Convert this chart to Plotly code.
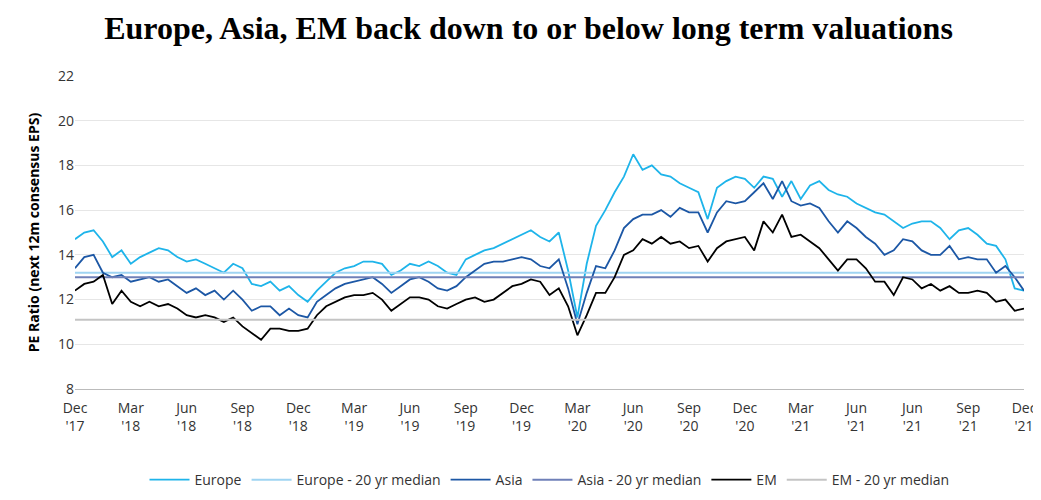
import plotly.graph_objects as go

tick_labels = ["Dec<br>'17", "Mar<br>'18", "Jun<br>'18", "Sep<br>'18", "Dec<br>'18", "Mar<br>'19",
               "Jun<br>'19", "Sep<br>'19", "Dec<br>'19", "Mar<br>'20", "Jun<br>'20", "Sep<br>'20",
               "Dec<br>'20", "Mar<br>'21", "Jun<br>'21", "Jun<br>'21", "Sep<br>'21", "Dec<br>'21"]

europe = [14.7, 15.0, 15.1, 14.6, 13.9, 14.2,
          13.6, 13.9, 14.1, 14.3, 14.2, 13.9,
          13.7, 13.8, 13.6, 13.4, 13.2, 13.6,
          13.4, 12.7, 12.6, 12.8, 12.4, 12.6,
          12.2, 11.9, 12.4, 12.8, 13.2, 13.4,
          13.5, 13.7, 13.7, 13.6, 13.1, 13.3,
          13.6, 13.5, 13.7, 13.5, 13.2, 13.1,
          13.8, 14.0, 14.2, 14.3, 14.5, 14.7,
          14.9, 15.1, 14.8, 14.6, 15.0, 13.3,
          11.2, 13.6, 15.3, 16.0, 16.8, 17.5,
          18.5, 17.8, 18.0, 17.6, 17.5, 17.2,
          17.0, 16.8, 15.6, 17.0, 17.3, 17.5,
          17.4, 17.0, 17.5, 17.4, 16.6, 17.3,
          16.5, 17.1, 17.3, 16.9, 16.7, 16.6,
          16.3, 16.1, 15.9, 15.8, 15.5, 15.2,
          15.4, 15.5, 15.5, 15.2, 14.7, 15.1,
          15.2, 14.9, 14.5, 14.4, 13.8, 12.5,
          12.4]

asia = [13.4, 13.9, 14.0, 13.2, 13.0, 13.1,
        12.8, 12.9, 13.0, 12.8, 12.9, 12.6,
        12.3, 12.5, 12.2, 12.4, 12.0, 12.4,
        12.0, 11.5, 11.7, 11.7, 11.3, 11.6,
        11.3, 11.2, 11.9, 12.2, 12.5, 12.7,
        12.8, 12.9, 13.0, 12.7, 12.3, 12.6,
        12.9, 13.0, 12.8, 12.5, 12.4, 12.6,
        13.0, 13.3, 13.6, 13.7, 13.7, 13.8,
        13.9, 13.8, 13.5, 13.4, 13.8, 12.5,
        10.9, 12.3, 13.5, 13.4, 14.2, 15.2,
        15.6, 15.8, 15.8, 16.0, 15.7, 16.1,
        15.9, 15.9, 15.0, 15.9, 16.4, 16.3,
        16.4, 16.8, 17.2, 16.5, 17.3, 16.4,
        16.2, 16.3, 16.1, 15.5, 15.0, 15.5,
        15.2, 14.8, 14.5, 14.0, 14.2, 14.7,
        14.6, 14.2, 14.0, 14.0, 14.4, 13.8,
        13.9, 13.8, 13.8, 13.2, 13.5, 13.0,
        12.4]

em = [12.4, 12.7, 12.8, 13.1, 11.8, 12.4,
      11.9, 11.7, 11.9, 11.7, 11.8, 11.6,
      11.3, 11.2, 11.3, 11.2, 11.0, 11.2,
      10.8, 10.5, 10.2, 10.7, 10.7, 10.6,
      10.6, 10.7, 11.3, 11.7, 11.9, 12.1,
      12.2, 12.2, 12.3, 12.0, 11.5, 11.8,
      12.1, 12.1, 12.0, 11.7, 11.6, 11.8,
      12.0, 12.1, 11.9, 12.0, 12.3, 12.6,
      12.7, 12.9, 12.8, 12.2, 12.5, 11.7,
      10.4, 11.3, 12.3, 12.3, 13.0, 14.0,
      14.2, 14.7, 14.5, 14.8, 14.5, 14.6,
      14.3, 14.4, 13.7, 14.3, 14.6, 14.7,
      14.8, 14.2, 15.5, 15.0, 15.8, 14.8,
      14.9, 14.6, 14.3, 13.8, 13.3, 13.8,
      13.8, 13.4, 12.8, 12.8, 12.2, 13.0,
      12.9, 12.5, 12.7, 12.4, 12.6, 12.3,
      12.3, 12.4, 12.3, 11.9, 12.0, 11.5,
      11.6]

europe_median = 13.2
asia_median = 13.0
em_median = 11.1

per_tick = 6
x = list(range(len(europe)))
xend = x[-1]

fig = go.Figure()
fig.add_trace(go.Scatter(x=x, y=europe, name="Europe", mode="lines",
                         line=dict(color="#1eb4ea", width=1.8)))
fig.add_trace(go.Scatter(x=[0, xend], y=[europe_median] * 2, name="Europe - 20 yr median",
                         mode="lines", line=dict(color="#9fd4f2", width=2)))
fig.add_trace(go.Scatter(x=x, y=asia, name="Asia", mode="lines",
                         line=dict(color="#1c57a5", width=1.8)))
fig.add_trace(go.Scatter(x=[0, xend], y=[asia_median] * 2, name="Asia - 20 yr median",
                         mode="lines", line=dict(color="#6f80b8", width=2)))
fig.add_trace(go.Scatter(x=x, y=em, name="EM", mode="lines",
                         line=dict(color="#000000", width=1.8)))
fig.add_trace(go.Scatter(x=[0, xend], y=[em_median] * 2, name="EM - 20 yr median",
                         mode="lines", line=dict(color="#c4c4c4", width=2)))

fig.update_layout(
    width=1041, height=500,
    paper_bgcolor="white", plot_bgcolor="white",
    font=dict(family="Open Sans", size=14, color="#333"),
    title=dict(text="<b>Europe, Asia, EM back down to or below long term valuations</b>",
               x=0.5, xanchor="center", y=0.96, yanchor="middle",
               font=dict(family="Liberation Serif", size=32, color="#000")),
    margin=dict(l=67, r=13, t=68, b=116),
    xaxis=dict(range=[0, xend], tickmode="array",
               tickvals=[i * per_tick for i in range(len(tick_labels))],
               ticktext=tick_labels, showgrid=False, zeroline=False,
               showline=True, linecolor="#bbb", ticks="outside", ticklen=6,
               tickcolor="rgba(0,0,0,0)", tickfont=dict(size=14)),
    yaxis=dict(range=[8, 22], dtick=2, showgrid=True, gridcolor="#e6e6e6", zeroline=False,
               title=dict(text="<b>PE Ratio (next 12m consensus EPS)</b>", font=dict(size=14, color="#000")),
               tickfont=dict(size=14)),
    legend=dict(orientation="h", x=0.5, xanchor="center", y=-0.24, yanchor="top",
                font=dict(size=14), itemwidth=40),
    showlegend=True,
)

fig.write_html("out.html")
